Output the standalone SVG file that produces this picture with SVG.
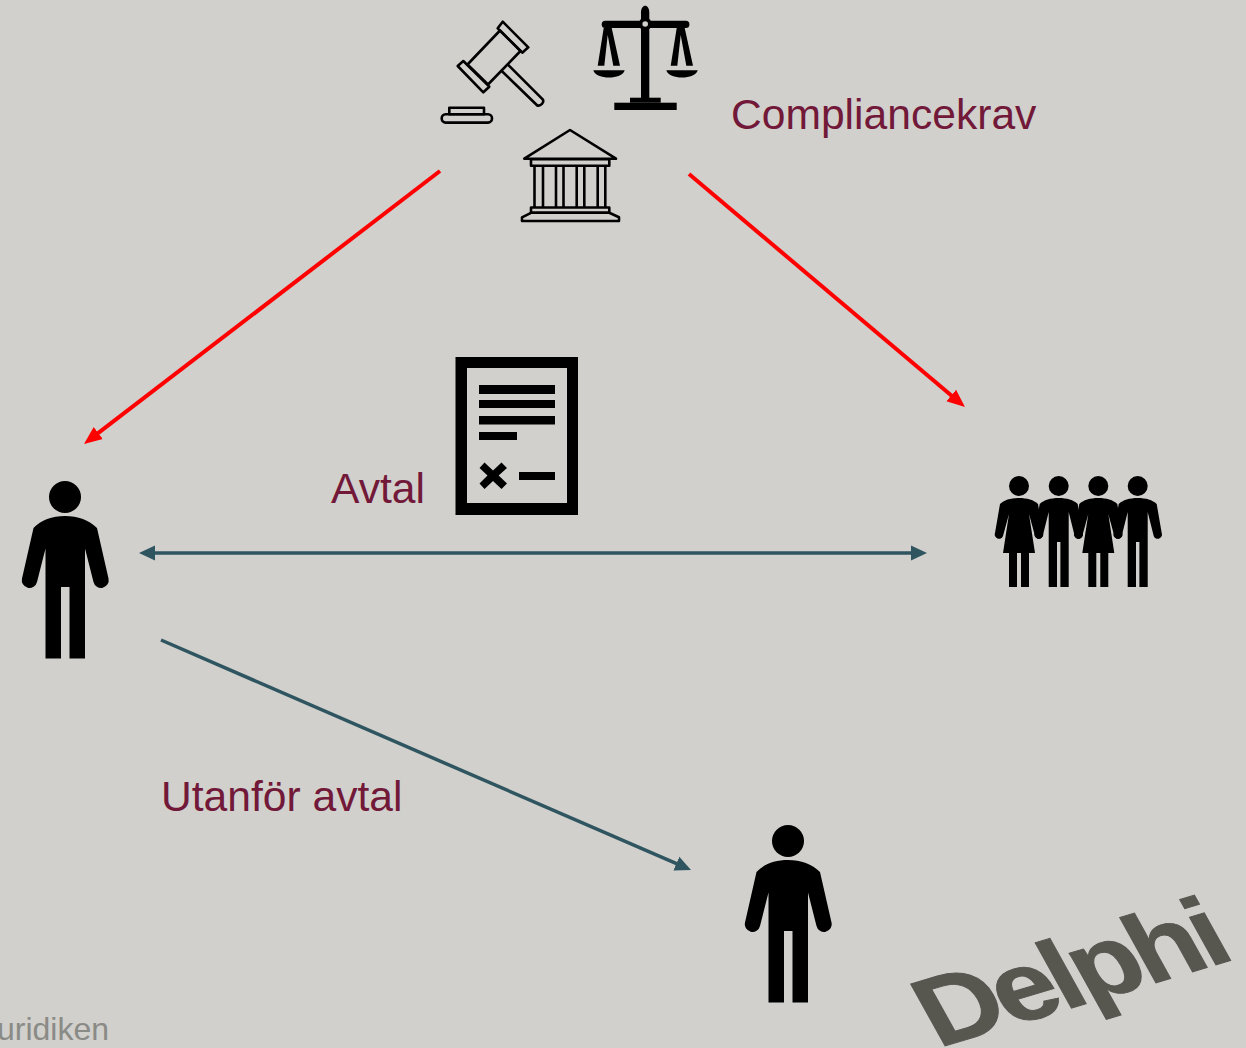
<svg xmlns="http://www.w3.org/2000/svg" width="1246" height="1048" viewBox="0 0 1246 1048">
<style>
text{font-family:"Liberation Sans",Arial,sans-serif}
.lbl{fill:#721838;font-size:42.600px}
.red{fill:none;stroke:#ff0000;stroke-width:4}
.teal{fill:none;stroke:#2f5560;stroke-width:3.500}
.out{fill:none;stroke:#000;stroke-width:2.600;stroke-linejoin:round}
</style>
<defs>
<marker id="hr" markerUnits="userSpaceOnUse" markerWidth="20" markerHeight="16" refX="6" refY="8" orient="auto"><path d="M0 .5L18 8L0 15.500Z" fill="#ff0000"/></marker>
<marker id="ht" markerUnits="userSpaceOnUse" markerWidth="18" markerHeight="16" refX="4" refY="8" orient="auto-start-reverse"><path d="M0 .5L16 8L0 15.500Z" fill="#2f5560"/></marker>
<g id="man">
<circle cx="65" cy="497" r="16"/>
<path d="M65 516C78 516 89 520 97 528L108.500 578.500A7.600 7.600 0 0 1 93.500 582L85 548.500V658.500H69.500V587H61V658.500H45.500V548.500L37 582A7.600 7.600 0 0 1 22 578.500L33.500 528C41 520 52 516 65 516Z"/>
</g>
<g id="mini-man">
<circle cx="0" cy="486" r="10"/>
<path d="M0 498C8 498 15 500 19 504L24 533A4.200 4.200 0 0 1 16 536L10 512V587H1.700V542H-1.700V587H-10V512L-16 536A4.200 4.200 0 0 1 -24 533L-19 504C-15 500 -8 498 0 498Z"/>
</g>
<g id="mini-woman">
<circle cx="0" cy="486" r="10"/>
<path d="M0 498C8 498 15 500 19 504L24 533A4.200 4.200 0 0 1 16 536L10 514L16 553H10V587H2V553H-2V587H-10V553H-16L-10 514L-16 536A4.200 4.200 0 0 1 -24 533L-19 504C-15 500 -8 498 0 498Z"/>
</g>
</defs>
<rect width="1246" height="1048" fill="#d1d0cc"/>
<g id="connectors">
<line class="red" x1="440" y1="171" x2="93.500" y2="436.700" marker-end="url(#hr)"/>
<line class="red" x1="689" y1="174" x2="955.800" y2="399.300" marker-end="url(#hr)"/>
<line class="teal" x1="151" y1="553" x2="915" y2="553" marker-start="url(#ht)" marker-end="url(#ht)"/>
<line class="teal" x1="161" y1="640" x2="680" y2="865.200" marker-end="url(#ht)"/>
</g>
<g id="gavel" class="out">
<path d="M467.500 64.500L500 30.500L520.500 51L488 84.500Z"/>
<path d="M497.700 28.300L502.700 21.700L528.300 47.300L522.300 52.700Z"/>
<path d="M457.700 66L463.300 61L489.300 86.700L483.300 92.300Z"/>
<path d="M507.700 64.300L542.700 99.300C544.500 102 541 106.500 537.300 105.500L500.700 70"/>
<rect x="441.700" y="114.300" width="50.300" height="8.300" rx="4"/>
<rect x="449.300" y="107.700" width="34.700" height="6.600"/>
</g>
<g id="scales">
<path d="M641 12.500C641 3.500 649.300 3.500 649.300 12.500V98H641Z"/>
<rect x="601.700" y="20.700" width="87.700" height="7.300" rx="3.500"/>
<circle cx="645.200" cy="24" r="6.500"/>
<circle cx="645.200" cy="24" r="2.800" fill="#d1d0cc"/>
<path d="M603.700 28H611.700L620 65.700H613.300L607.700 35L604.300 65.700H597.700Z"/>
<path d="M676.700 28H684.700L693 65.700H686.300L680.700 35L677.300 65.700H670.700Z"/>
<path d="M593.300 70.300H624.700C622 80 596 80 593.300 70.300Z"/>
<path d="M666.300 70.300H697.700C695 80 669 80 666.300 70.300Z"/>
<rect x="630" y="97.700" width="30.700" height="5"/>
<rect x="614.300" y="102.700" width="62.400" height="7.300"/>
</g>
<g id="court" class="out">
<path d="M524.300 158.700L570 130L616 158.700Z"/>
<rect x="531" y="159.300" width="78.300" height="6.400"/>
<path d="M534.500 165.700V207.500M543 165.700V207.500M556 165.700V207.500M563.500 165.700V207.500M576.700 165.700V207.500M584.300 165.700V207.500M597.700 165.700V207.500M605.300 165.700V207.500"/>
<rect x="531" y="207.500" width="78.300" height="5.300"/>
<path d="M531 212.800L522 217.300V221H619V217.300L609.300 212.800Z"/>
</g>
<g id="contract">
<path fill-rule="evenodd" d="M455.500 357H578V515H455.500ZM467 368V503H567V368Z"/>
<path d="M479 385H555V394H479ZM479 400H555V408H479ZM479 416H555V424.500H479ZM479 432H517V440H479ZM519 472H555V480H519Z"/>
<path d="M479.500 468L484.500 462.500L493 470.500L501.500 462.500L507 468L498.700 475.500L507 483.500L501.500 489L493 481L484.500 489L479.500 483.500L487.500 475.500Z"/>
</g>
<g id="person-left"><use href="#man"/></g>
<g id="person-right"><use href="#man" transform="translate(723 344)"/></g>
<g id="group">
<use href="#mini-woman" transform="translate(1019 0)"/>
<use href="#mini-man" transform="translate(1058.700 0)"/>
<use href="#mini-woman" transform="translate(1098.300 0)"/>
<use href="#mini-man" transform="translate(1137.700 0)"/>
</g>
<text class="lbl" x="731" y="128.500">Compliancekrav</text>
<text class="lbl" x="331" y="503">Avtal</text>
<text class="lbl" x="161" y="811">Utanför avtal</text>
<text x="-3" y="1040" font-size="32" fill="#8a8a86">uridiken</text>
<text x="0" y="0" font-size="100" font-weight="700" letter-spacing="-5" fill="#575750" stroke="#575750" stroke-width="1" transform="matrix(1.07 -.32 .5 .9 938 1048)">Delphi</text>
</svg>
